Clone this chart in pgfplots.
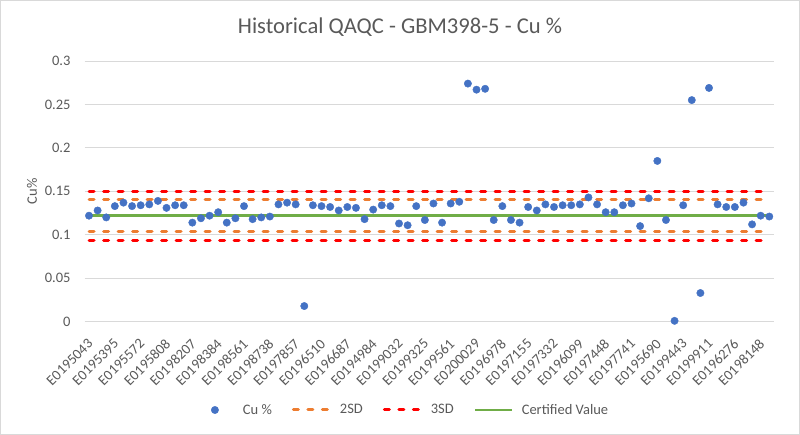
\documentclass[border=0pt]{standalone}
\usepackage{pgfplots}
\pgfplotsset{compat=1.18}
\usepackage{fontspec}
\setmainfont{Carlito}
\definecolor{cublue}{HTML}{4472C4}
\definecolor{sdorange}{HTML}{ED7D31}
\definecolor{sdred}{HTML}{FF0000}
\definecolor{cvgreen}{HTML}{70AD47}
\definecolor{gridgray}{HTML}{D9D9D9}
\definecolor{txtgray}{HTML}{595959}
\pgfplotsset{
  markleg/.style={legend image code/.code={\path[draw=none,fill=none] (0pt,-4pt) rectangle (46pt,4pt);\draw[##1] plot coordinates {(20pt,0pt)};}},
  lineleg/.style={legend image code/.code={\path[draw=none,fill=none] (0pt,-4pt) rectangle (46pt,4pt);\draw[##1] (1.5pt,0pt) -- (38.5pt,0pt);}},
}
\pgfplotstableread{
x y
0 0.122
1 0.128
2 0.120
3 0.133
4 0.137
5 0.133
6 0.134
7 0.135
8 0.139
9 0.131
10 0.134
11 0.134
12 0.114
13 0.119
14 0.122
15 0.126
16 0.114
17 0.119
18 0.133
19 0.118
20 0.120
21 0.121
22 0.135
23 0.137
24 0.135
25 0.018
26 0.134
27 0.133
28 0.132
29 0.128
30 0.132
31 0.131
32 0.118
33 0.129
34 0.134
35 0.133
36 0.113
37 0.111
38 0.133
39 0.117
40 0.136
41 0.114
42 0.136
43 0.138
44 0.274
45 0.267
46 0.268
47 0.117
48 0.133
49 0.117
50 0.114
51 0.132
52 0.128
53 0.135
54 0.132
55 0.134
56 0.134
57 0.135
58 0.143
59 0.135
60 0.126
61 0.126
62 0.134
63 0.136
64 0.110
65 0.142
66 0.185
67 0.117
68 0.001
69 0.134
70 0.255
71 0.033
72 0.269
73 0.135
74 0.132
75 0.132
76 0.137
77 0.112
78 0.122
79 0.121
}\cudata
\begin{document}
\begin{tikzpicture}
\useasboundingbox (0,0) rectangle (800pt,435pt);
\draw[gridgray, line width=0.8pt] (0.5pt,0.5pt) rectangle (799.5pt,434.5pt);
\begin{axis}[
  at={(84.7pt,113.3pt)}, anchor=south west,
  scale only axis, width=688.9pt, height=260.7pt,
  xmin=-0.5, xmax=79.5, ymin=0, ymax=0.3,
  ytick={0,0.05,0.1,0.15,0.2,0.25,0.3},
  yticklabel style={/pgf/number format/fixed, /pgf/number format/precision=2,
     /pgf/number format/assume math mode=true, font=\fontsize{14.5}{16}\selectfont,
     text=txtgray, inner sep=0pt},
  yticklabel shift=14pt,
  xtick={0,3,...,78},
  xticklabels={E0195043,E0195395,E0195572,E0195808,E0198207,E0198384,E0198561,E0198738,E0197857,E0196510,E0196687,E0194984,E0199032,E0199325,E0199561,E0200029,E0196978,E0197155,E0197332,E0196099,E0197448,E0197741,E0195690,E0199443,E0199911,E0196276,E0198148},
  xticklabel style={rotate=45, anchor=east, inner sep=0pt, xshift=2pt,
     font=\fontsize{14.5}{16}\selectfont, text=txtgray},
  xticklabel shift=21pt,
  major tick length=0pt,
  ymajorgrids, grid style={gridgray, line width=0.8pt},
  axis line style={draw=none},
  ylabel={Cu\%},
  ylabel style={at={(axis description cs:-0.0765,0.5)}, anchor=center,
     font=\fontsize{14.5}{16}\selectfont, text=txtgray},
  clip=false,
  legend columns=4,
  legend style={at={(0.4614,-0.3387)}, anchor=center, draw=none, fill=none,
     font=\fontsize{14.5}{16}\selectfont, text=txtgray,
     /tikz/every even column/.append style={column sep=18pt},
     inner sep=0pt},
  legend cell align=left,
]
\addlegendimage{only marks, mark=*, mark size=3.7pt, color=cublue, markleg}
\addlegendentry{Cu \%}
\addplot[sdorange, line width=3pt, line cap=round, dash pattern=on 5pt off 9.5pt, lineleg] coordinates {(0,0.1405) (79,0.1405)};
\addlegendentry{2SD}
\addplot[sdorange, line width=3pt, line cap=round, dash pattern=on 5pt off 9.5pt, forget plot] coordinates {(0,0.1035) (79,0.1035)};
\addplot[sdred, line width=3pt, line cap=round, dash pattern=on 5pt off 9.5pt, lineleg] coordinates {(0,0.150) (79,0.150)};
\addlegendentry{3SD}
\addplot[sdred, line width=3pt, line cap=round, dash pattern=on 5pt off 9.5pt, forget plot] coordinates {(0,0.094) (79,0.094)};
\addplot[cvgreen, line width=2.8pt, lineleg] coordinates {(0,0.122) (79,0.122)};
\addlegendentry{Certified Value}
\addplot[only marks, mark=*, mark size=3.7pt, color=cublue, forget plot] table[x=x,y=y] {\cudata};
\end{axis}
\node[text=txtgray, font=\fontsize{22.6}{26}\selectfont] at (400pt,408pt) {Historical QAQC - GBM398-5 - Cu \%};
\end{tikzpicture}
\end{document}
